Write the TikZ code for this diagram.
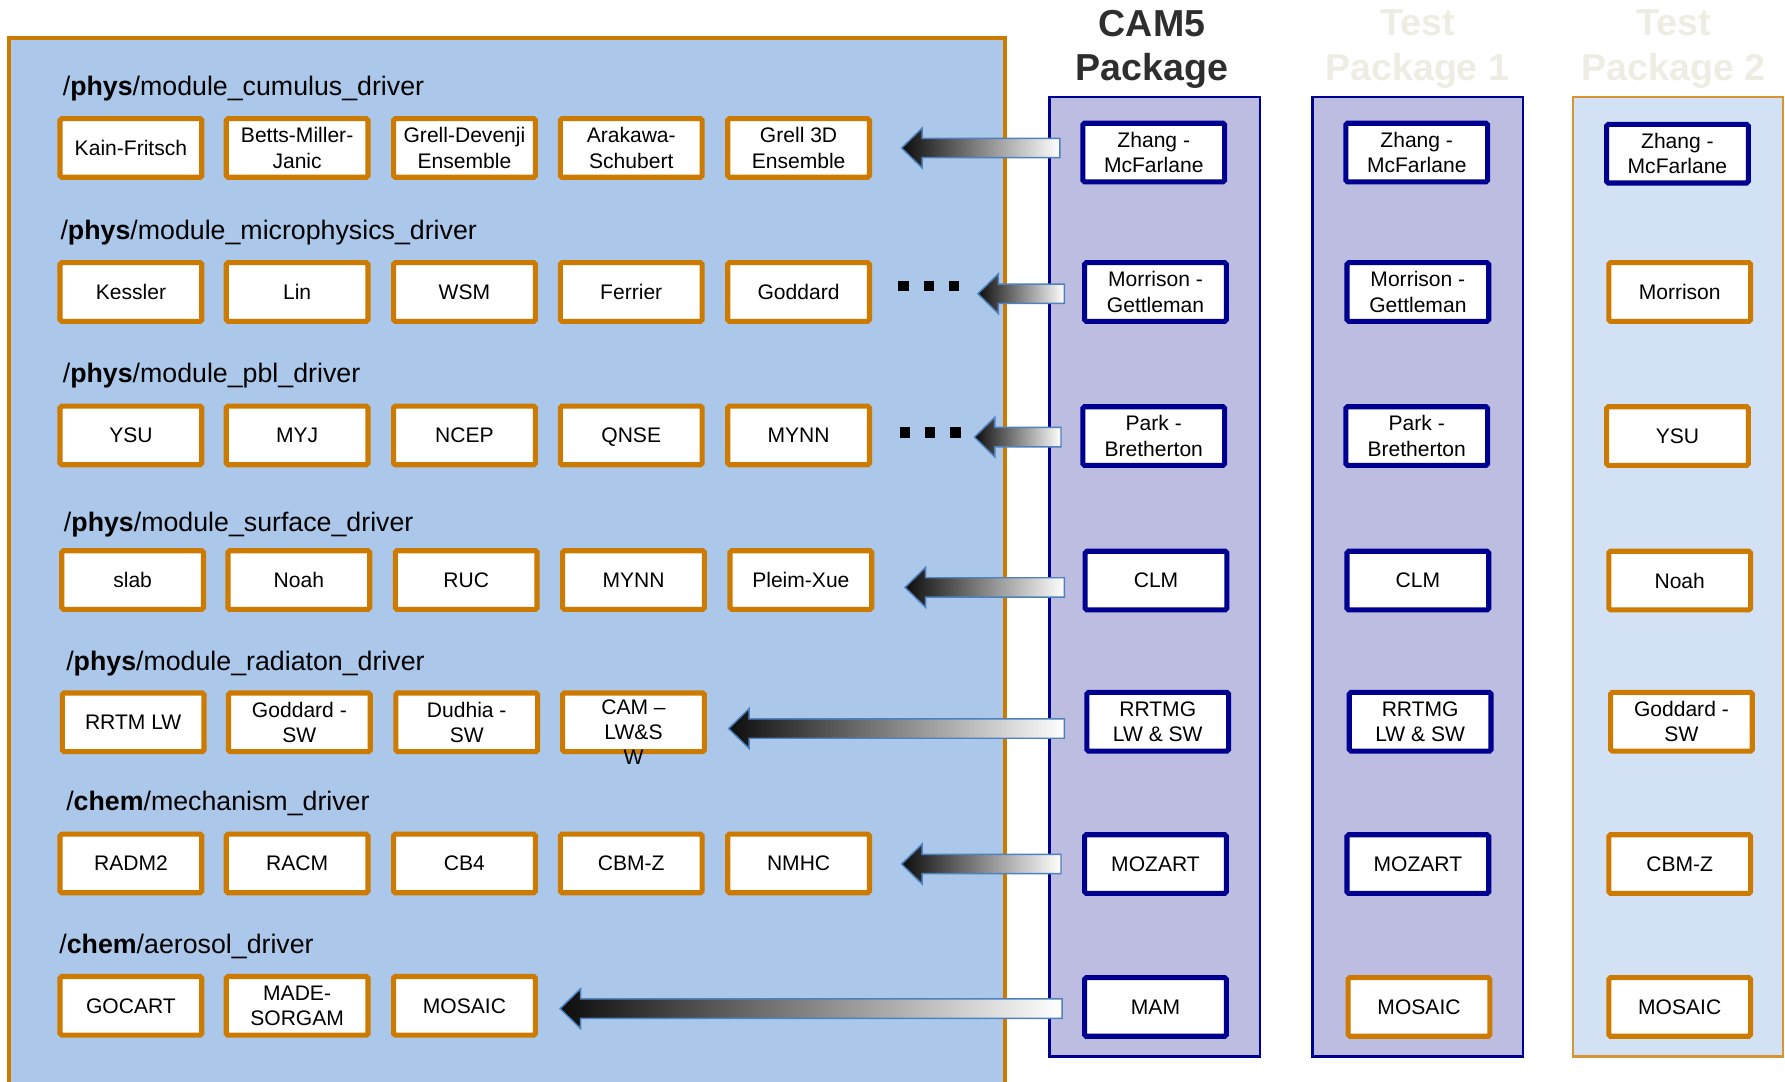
\documentclass[tikz,border=0pt]{standalone}
\usepackage{fontspec}
\setmainfont{Liberation Sans}
\usetikzlibrary{calc}

\definecolor{panelblue}{HTML}{ABC8EB}
\definecolor{boxorange}{HTML}{CC7A00}
\definecolor{pkglav}{HTML}{BDBDE1}
\definecolor{pkgnavy}{HTML}{000090}
\definecolor{pkgpale}{HTML}{D3E1F5}
\definecolor{arrowblue}{HTML}{4F81BD}
\definecolor{titlegray}{HTML}{2E2E2E}
\definecolor{titlefaint}{HTML}{EEEDE3}

\newcommand\mboxfont{\fontsize{18.5}{22.2}\selectfont}
\newcommand\rlblfont{\fontsize{23.5}{27}\selectfont}
\newcommand\pkgttlfont{\fontsize{33}{39}\selectfont\bfseries}

\tikzset{
  modbox/.style={draw=boxorange, fill=white, line width=4.5pt, rounded corners=1.5pt,
    minimum width=124.5pt, minimum height=51.5pt, inner sep=0pt, align=center, font=\mboxfont},
  pkgbox/.style={modbox, draw=pkgnavy},
  rowlabel/.style={anchor=west, inner sep=0pt, font=\rlblfont},
  pkgtitle/.style={anchor=north, inner sep=0pt, align=center, font=\pkgttlfont},
  fatarrow/.style={left color=black!95, right color=white, draw=arrowblue, line width=1.3pt, line join=miter},
  dotsq/.style={fill=black}
}

% block arrow with a shaded body: #1 = tail, #2 = tip
\newcommand\blockarrow[2]{%
  \shadedraw[fatarrow] let \p1=(#2), \p2=(#1) in
    (\p1) -- (\x1+18pt,\y1+17.5pt) -- (\x1+18pt,\y1+8.5pt) -- (\x2,\y1+8.5pt)
    -- (\x2,\y1-8.5pt) -- (\x1+18pt,\y1-8.5pt) -- (\x1+18pt,\y1-17.5pt) -- cycle;}

\begin{document}
\begin{tikzpicture}[x=1pt, y=-1pt]
\useasboundingbox (0,0) rectangle (1568,950);
\clip (0,0) rectangle (1568,950);

% ---------- panels ----------
\draw[fill=panelblue, draw=boxorange, line width=3.5pt] (8,33) rectangle (883,1000);
\draw[fill=pkglav, draw=pkgnavy, line width=2pt] (922,85) rectangle (1107,928);
\draw[fill=pkglav, draw=pkgnavy, line width=2pt] (1153,85) rectangle (1338,928);
\draw[fill=pkgpale, draw=boxorange!80, line width=2pt] (1382,85) rectangle (1566,928);

% ---------- package titles ----------
\node[pkgtitle, text=titlegray]  (ttl-cam)  at (1012,8.5) {CAM5\\Package};
\node[pkgtitle, text=titlefaint] (ttl-tst1) at (1245,8.5) {Test\\Package 1};
\node[pkgtitle, text=titlefaint] (ttl-tst2) at (1470,8.5) {Test\\Package 2};

% ---------- WRF driver rows ----------
\node[rowlabel] (lbl-1) at (55,78)  {/\textbf{phys}/module\_cumulus\_driver};
\node[rowlabel] (lbl-2) at (53,204) {/\textbf{phys}/module\_microphysics\_driver};
\node[rowlabel] (lbl-3) at (55,330) {/\textbf{phys}/module\_pbl\_driver};
\node[rowlabel] (lbl-4) at (56,461) {/\textbf{phys}/module\_surface\_driver};
\node[rowlabel] (lbl-5) at (58,583) {/\textbf{phys}/module\_radiaton\_driver};
\node[rowlabel] (lbl-6) at (58,706) {/\textbf{chem}/mechanism\_driver};
\node[rowlabel] (lbl-7) at (52,831) {/\textbf{chem}/aerosol\_driver};

% cumulus
\node[modbox] (m1-1) at (115,130)   {Kain-Fritsch};
\node[modbox] (m1-2) at (261,130)   {Betts-Miller-\\Janic};
\node[modbox] (m1-3) at (408,130)   {Grell-Devenji\\Ensemble};
\node[modbox] (m1-4) at (554.5,130) {Arakawa-\\Schubert};
\node[modbox] (m1-5) at (701.5,130) {Grell 3D\\Ensemble};
% microphysics
\node[modbox] (m2-1) at (115,256.5)   {Kessler};
\node[modbox] (m2-2) at (261,256.5)   {Lin};
\node[modbox] (m2-3) at (408,256.5)   {WSM};
\node[modbox] (m2-4) at (554.5,256.5) {Ferrier};
\node[modbox] (m2-5) at (701.5,256.5) {Goddard};
% pbl
\node[modbox] (m3-1) at (115,382.5)   {YSU};
\node[modbox] (m3-2) at (261,382.5)   {MYJ};
\node[modbox] (m3-3) at (408,382.5)   {NCEP};
\node[modbox] (m3-4) at (554.5,382.5) {\smash{Q}NSE};
\node[modbox] (m3-5) at (701.5,382.5) {MYNN};
% surface
\node[modbox] (m4-1) at (116.5,509.5) {slab};
\node[modbox] (m4-2) at (262.5,509.5) {Noah};
\node[modbox] (m4-3) at (409.5,509.5) {RUC};
\node[modbox] (m4-4) at (556.5,509.5) {MYNN};
\node[modbox] (m4-5) at (703.5,509.5) {Pleim-Xue};
% radiation
\node[modbox] (m5-1) at (117,634.5)   {RRTM LW};
\node[modbox] (m5-2) at (263,634.5)   {Goddard -\\SW};
\node[modbox] (m5-3) at (410,634.5)   {Dudhia -\\SW};
\node[modbox] (m5-4) at (556.5,634.5) {};
\node[inner sep=0pt, align=center, font=\mboxfont] (m5-4t) at (556.5,643) {CAM –\\LW\&S\\W};
% chemistry mechanisms
\node[modbox] (m6-1) at (115,758.5)   {RADM2};
\node[modbox] (m6-2) at (261,758.5)   {RACM};
\node[modbox] (m6-3) at (408,758.5)   {CB4};
\node[modbox] (m6-4) at (554.5,758.5) {CBM-Z};
\node[modbox] (m6-5) at (701.5,758.5) {NMHC};
% aerosols
\node[modbox] (m7-1) at (115,883.5) {GOCART};
\node[modbox] (m7-2) at (261,883.5) {MADE-\\SORGAM};
\node[modbox] (m7-3) at (408,883.5) {MOSAIC};

% ---------- continuation dots ----------
\foreach \x in {794,816,838} {
  \fill[dotsq] (\x-4.75,246.5) rectangle ++(9.5,9.5);
  \fill[dotsq] (\x-3.75,375.5) rectangle ++(9.5,9.5);
}

% ---------- CAM5 package ----------
\node[pkgbox] (c-1) at (1013.5,134) {Zhang -\\McFarlane};
\node[pkgbox] (c-2) at (1015,256.5) {Morrison -\\Gettleman};
\node[pkgbox] (c-3) at (1013.5,383) {Park -\\Bretherton};
\node[pkgbox] (c-4) at (1015.5,510) {CLM};
\node[pkgbox] (c-5) at (1017,634)   {RRTMG\\LW \& SW};
\node[pkgbox] (c-6) at (1015,759)   {MOZART};
\node[pkgbox] (c-7) at (1015,884.5) {MAM};

% ---------- Test package 1 ----------
\node[pkgbox] (p-1) at (1244.5,134) {Zhang -\\McFarlane};
\node[pkgbox] (p-2) at (1245.5,256.5) {Morrison -\\Gettleman};
\node[pkgbox] (p-3) at (1244.5,383) {Park -\\Bretherton};
\node[pkgbox] (p-4) at (1245.5,510) {CLM};
\node[pkgbox] (p-5) at (1247.5,634) {RRTMG\\LW \& SW};
\node[pkgbox] (p-6) at (1245.5,759) {MOZART};
\node[modbox] (p-7) at (1246.5,884.5) {MOSAIC};

% ---------- Test package 2 ----------
\node[pkgbox] (q-1) at (1473.5,135) {Zhang -\\McFarlane};
\node[modbox] (q-2) at (1475.5,256.5) {Morrison};
\node[modbox] (q-3) at (1473.5,383) {YSU};
\node[modbox] (q-4) at (1475.5,510) {Noah};
\node[modbox] (q-5) at (1477,634)   {Goddard -\\SW};
\node[modbox] (q-6) at (1475.5,759) {CBM-Z};
\node[modbox] (q-7) at (1475.5,884.5) {MOSAIC};

% ---------- arrows from CAM5 into the drivers ----------
\coordinate (tail-1) at (931,130);  \coordinate (tip-1) at (792,130);
\coordinate (tail-2) at (935,258);  \coordinate (tip-2) at (859,258);
\coordinate (tail-3) at (932,384);  \coordinate (tip-3) at (856,384);
\coordinate (tail-4) at (935,516);  \coordinate (tip-4) at (795,516);
\coordinate (tail-5) at (935,640);  \coordinate (tip-5) at (640,640);
\coordinate (tail-6) at (932,759);  \coordinate (tip-6) at (792,759);
\coordinate (tail-7) at (933,886);  \coordinate (tip-7) at (492,886);
\foreach \i in {1,...,7} { \blockarrow{tail-\i}{tip-\i} }

\end{tikzpicture}
\end{document}
